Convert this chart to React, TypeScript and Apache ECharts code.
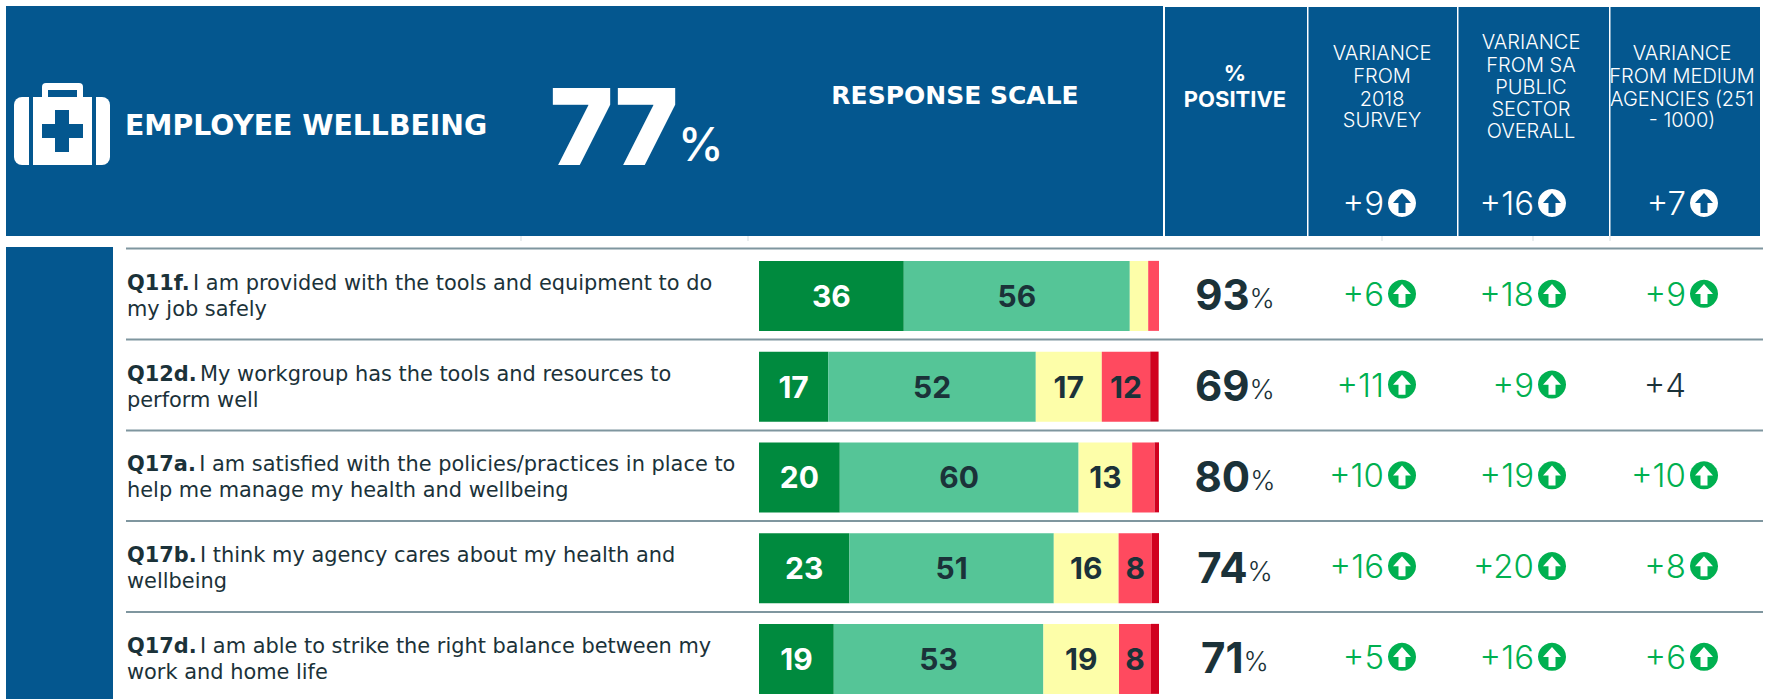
import React, { useEffect, useRef } from "react";
import * as echarts from "echarts";

const questionCodes = ["Q11f.", "Q12d.", "Q17a.", "Q17b.", "Q17d."];
const questionFirstLines = [
  "I am provided with the tools and equipment to do",
  "My workgroup has the tools and resources to",
  "I am satisfied with the policies/practices in place to",
  "I think my agency cares about my health and",
  "I am able to strike the right balance between my",
];
const questionSecondLines = [
  "my job safely",
  "perform well",
  "help me manage my health and wellbeing",
  "wellbeing",
  "work and home life",
];
const stronglyAgree = [36.2, 17.3, 20.2, 22.6, 18.7];
const agree = [56.5, 51.9, 59.7, 51.1, 52.4];
const neutral = [4.6, 16.5, 13.4, 16.2, 18.9];
const disagree = [2.7, 12.1, 5.6, 8.3, 8.0];
const stronglyDisagree = [0, 2.1, 1.1, 1.8, 2.0];
const barLabels = [
  [36, 17, 20, 23, 19],
  [56, 52, 60, 51, 53],
  [null, 17, 13, 16, 19],
  [null, 12, null, 8, 8],
  [null, null, null, null, null],
];
const percentPositive = [93, 69, 80, 74, 71];
const variance2018 = [6, 11, 10, 16, 5];
const varianceSA = [18, 9, 19, 20, 16];
const varianceMedium = [9, 4, 10, 8, 6];
const headerVariances = [9, 16, 7];
const columnNames = ["positive", "2018", "SA", "medium"];

const BLUE = "#04578F";
const DARK = "#1B3239";
const GREEN = "#00B050";
const RULE = "#7F969F";
const FONT = "Inter, 'Noto Sans', sans-serif";
const WIDE = "'DejaVu Sans', Inter, sans-serif";
const arrowPoints = [[0, -10], [9, 0], [3.5, 0], [3.5, 10], [-3.5, 10], [-3.5, 0], [-9, 0]];

const badge = (cx: number, cy: number, circle: string, arrow: string) => [
  { type: "circle", shape: { cx, cy, r: 14 }, style: { fill: circle }, silent: true },
  { type: "polygon", shape: { points: arrowPoints.map(([x, y]) => [cx + x, cy + y]) }, style: { fill: arrow }, silent: true },
];

const hText = (text: string, x: number, y: number, size: number, weight: number, align = "center", family = FONT) => ({
  type: "text",
  silent: true,
  style: { text, x, y, fill: "#fff", fontFamily: family, fontSize: size, fontWeight: weight, textAlign: align, textVerticalAlign: "middle" },
});

const rect = (x: number, y: number, width: number, height: number, fill: string, r: any = 0) => ({
  type: "rect",
  silent: true,
  shape: { x, y, width, height, r },
  style: { fill },
});

function buildGraphic() {
  const els: any[] = [
    rect(6, 6, 1157, 230, BLUE),
    rect(1165, 7, 142, 229, BLUE),
    rect(1308.5, 7, 148.5, 229, BLUE),
    rect(1458.5, 7, 150.5, 229, BLUE),
    rect(1610.5, 7, 149.5, 229, BLUE),
    rect(6, 247, 107, 452, BLUE),
    // briefcase icon
    rect(14, 97, 15, 68, "#fff", [8, 0, 0, 8]),
    rect(33, 97, 59, 68, "#fff"),
    rect(96, 97, 14, 68, "#fff", [0, 8, 8, 0]),
    rect(42, 83, 41, 16, "#fff", [4, 4, 0, 0]),
    rect(48, 90, 29, 7, BLUE),
    rect(42, 124, 41, 14, BLUE),
    rect(55, 110, 14, 42, BLUE),
    hText("EMPLOYEE WELLBEING", 125, 125, 28.3, 700, "left", WIDE),
    hText("77", 550, 126, 106, 900, "left"),
    hText("%", 678, 144, 46, 500, "left"),
    hText("RESPONSE SCALE", 955, 95, 25, 700, "center", WIDE),
    hText("%", 1235, 73, 22, 700),
    hText("POSITIVE", 1235, 99, 22, 700),
    hText("VARIANCE", 1382, 53, 20, 300),
    hText("FROM", 1382, 76, 20, 300),
    hText("2018", 1382, 99, 20, 300),
    hText("SURVEY", 1382, 120, 20, 300),
    hText("VARIANCE", 1531, 42, 20, 300),
    hText("FROM SA", 1531, 65, 20, 300),
    hText("PUBLIC", 1531, 87, 20, 300),
    hText("SECTOR", 1531, 109, 20, 300),
    hText("OVERALL", 1531, 131, 20, 300),
    hText("VARIANCE", 1682, 53, 20, 300),
    hText("FROM MEDIUM", 1682, 76, 20, 300),
    hText("AGENCIES (251", 1682, 99, 20, 300),
    hText("- 1000)", 1682, 120, 20, 300),
  ];
  [1402, 1552, 1704].forEach((cx, i) => {
    els.push(hText(`+${headerVariances[i]}`, cx - 18, 203, 33, 300, "right"));
    els.push(...badge(cx, 203, "#fff", BLUE));
  });
  [248.5, 339.5, 430.5, 521, 612].forEach((y) => {
    els.push({ type: "line", silent: true, shape: { x1: 126, y1: y, x2: 1763, y2: y }, style: { stroke: RULE, lineWidth: 2 } });
  });
  [521, 748, 1382, 1533, 1610].forEach((x) => {
    els.push({ type: "line", silent: true, shape: { x1: x, y1: 236, x2: x, y2: 241 }, style: { stroke: "#D5DDE1", lineWidth: 1 } });
  });
  return els;
}

const barSeries = (name: string, data: number[], color: string, labelIdx: number, labelColor: string) => ({
  name,
  type: "bar",
  stack: "scale",
  barWidth: 70,
  data,
  itemStyle: { color },
  silent: true,
  label: {
    show: true,
    position: "inside",
    color: labelColor,
    fontFamily: FONT,
    fontSize: 30,
    fontWeight: 700,
    formatter: (p: any) => {
      const v = barLabels[labelIdx][p.dataIndex];
      return v == null ? "" : String(v);
    },
  },
});

const statsData: any[] = [];
[percentPositive, variance2018, varianceSA, varianceMedium].forEach((col, c) =>
  col.forEach((v, r) => statsData.push([c, r, v]))
);

const renderStat = (_: any, api: any) => {
  const c = api.value(0);
  const v = api.value(2);
  const [x, y] = api.coord([c, api.value(1)]);
  if (c === 0) {
    return {
      type: "text",
      style: {
        x: x - 5,
        y: y + 1,
        text: `{n|${v}}{p|%}`,
        textAlign: "center",
        textVerticalAlign: "middle",
        rich: {
          n: { fontFamily: FONT, fontSize: 42, fontWeight: 700, fill: DARK, color: DARK },
          p: { fontFamily: FONT, fontSize: 27, fontWeight: 300, fill: DARK, color: DARK, padding: [8, 0, 0, 0] },
        },
      },
    };
  }
  const cx = x + (c === 3 ? 14 : 12);
  const significant = v >= 5;
  const children: any[] = [
    {
      type: "text",
      style: {
        x: cx - 18,
        y,
        text: `+${v}`,
        fill: significant ? GREEN : DARK,
        fontFamily: FONT,
        fontSize: 33,
        fontWeight: 300,
        textAlign: "right",
        textVerticalAlign: "middle",
      },
    },
  ];
  if (significant) children.push(...badge(cx, y, GREEN, "#fff"));
  return { type: "group", children };
};

export default function App() {
  const ref = useRef<HTMLDivElement>(null);
  useEffect(() => {
    document.body.style.margin = "0";
    const chart = echarts.init(ref.current!, null, { renderer: "svg" });
    chart.setOption({
      animation: false,
      backgroundColor: "#fff",
      graphic: buildGraphic(),
      grid: [
        { left: 759, width: 400, top: 250.5, height: 453.75, outerBoundsMode: "none" },
        { left: 1165, width: 600, top: 248.5, height: 453.75, outerBoundsMode: "none" },
      ],
      xAxis: [
        { type: "value", min: 0, max: 100, show: false, gridIndex: 0 },
        { type: "category", data: columnNames, show: false, gridIndex: 1 },
      ],
      yAxis: [
        {
          type: "category",
          inverse: true,
          gridIndex: 0,
          data: questionCodes,
          axisLine: { show: false },
          axisTick: { show: false },
          axisLabel: {
            interval: 0,
            align: "left",
            margin: 632,
            formatter: (_: string, i: number) =>
              `{b|${questionCodes[i]}} {r|${questionFirstLines[i]}}\n{r|${questionSecondLines[i]}}`,
            rich: {
              b: { fontFamily: WIDE, fontSize: 20.9, fontWeight: 700, color: DARK, lineHeight: 26 },
              r: { fontFamily: WIDE, fontSize: 20.9, fontWeight: 400, color: DARK, lineHeight: 26 },
            },
          },
        },
        { type: "category", inverse: true, gridIndex: 1, data: questionCodes, show: false },
      ],
      series: [
        barSeries("Strongly agree", stronglyAgree, "#008A3E", 0, "#fff"),
        barSeries("Agree", agree, "#55C597", 1, DARK),
        barSeries("Neutral", neutral, "#FDFEA9", 2, DARK),
        barSeries("Disagree", disagree, "#FF4A5F", 3, DARK),
        barSeries("Strongly disagree", stronglyDisagree, "#D0011F", 4, DARK),
        {
          type: "custom",
          xAxisIndex: 1,
          yAxisIndex: 1,
          data: statsData,
          renderItem: renderStat,
          silent: true,
          clip: false,
        },
      ],
    });
    return () => chart.dispose();
  }, []);
  return <div ref={ref} style={{ width: 1770, height: 699 }} />;
}
